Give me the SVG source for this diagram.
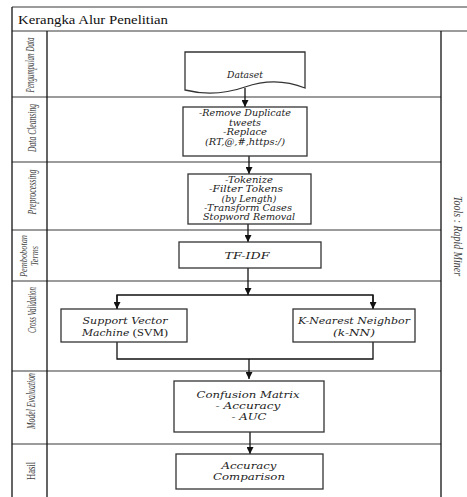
<svg xmlns="http://www.w3.org/2000/svg" width="467" height="497" viewBox="0 0 467 497">
<style>
.lane{stroke:#7a7a7a;stroke-width:1.3;fill:none}
.vline{stroke:#111;stroke-width:1.3;fill:none}
.box{fill:#fff;stroke:#333;stroke-width:1.3}
.conn{stroke:#111;stroke-width:1.3;fill:none}
.t{font-family:"DejaVu Serif","Liberation Serif",serif;font-style:italic;font-size:8.3px;fill:#222;text-anchor:middle}
.t2{font-family:"DejaVu Serif","Liberation Serif",serif;font-style:italic;font-size:9.6px;fill:#222;text-anchor:middle}
.lbl{font-family:"Liberation Serif",serif;font-style:italic;font-size:12.5px;fill:#444;text-anchor:middle}
.lbs{font-family:"Liberation Serif",serif;font-style:italic;font-size:10.5px;fill:#444;text-anchor:middle}
.title{font-family:"Liberation Serif",serif;font-size:13.5px;fill:#111}
</style>
<defs>
<marker id="arr" markerWidth="7" markerHeight="7" refX="7" refY="3.5" orient="auto" markerUnits="userSpaceOnUse">
<path d="M0,0 L7,3.5 L0,7 z" fill="#111"/>
</marker>
</defs>

<g id="frame">
<line class="lane" x1="12" y1="7" x2="467" y2="7"/>
<line class="lane" x1="12" y1="31" x2="467" y2="31"/>
<line class="lane" x1="12" y1="97" x2="441" y2="97"/>
<line class="lane" x1="12" y1="162" x2="441" y2="162"/>
<line class="lane" x1="12" y1="230" x2="441" y2="230"/>
<line class="lane" x1="12" y1="281" x2="441" y2="281"/>
<line class="lane" x1="12" y1="371" x2="441" y2="371"/>
<line class="lane" x1="12" y1="444" x2="441" y2="444"/>
<line class="vline" x1="12" y1="7" x2="12" y2="497"/>
<line class="vline" x1="47" y1="31" x2="47" y2="497"/>
<line class="vline" x1="441" y1="31" x2="441" y2="497"/>
<text class="title" x="18" y="24" textLength="150" lengthAdjust="spacingAndGlyphs">Kerangka Alur Penelitian</text>
</g>

<g id="lane-labels">
<text class="lbl" transform="translate(34,65) rotate(-90)" textLength="55" lengthAdjust="spacingAndGlyphs">Pengumpulan Data</text>
<text class="lbl" transform="translate(36,128) rotate(-90)" textLength="48" lengthAdjust="spacingAndGlyphs">Data Cleansing</text>
<text class="lbl" transform="translate(36,192) rotate(-90)" textLength="45" lengthAdjust="spacingAndGlyphs">Preprocessing</text>
<text class="lbs" transform="translate(27,256) rotate(-90)" textLength="42" lengthAdjust="spacingAndGlyphs">Pembobotan</text>
<text class="lbs" transform="translate(38,256) rotate(-90)" textLength="20" lengthAdjust="spacingAndGlyphs">Terms</text>
<text class="lbl" transform="translate(36,310) rotate(-90)" textLength="46" lengthAdjust="spacingAndGlyphs">Cross Validation</text>
<text class="lbl" transform="translate(35,401) rotate(-90)" textLength="56" lengthAdjust="spacingAndGlyphs">Model Evaluation</text>
<text class="lbl" transform="translate(35,471) rotate(-90)" style="font-style:normal" textLength="18" lengthAdjust="spacingAndGlyphs">Hasil</text>
<text class="lbl" transform="translate(454,236) rotate(90)" textLength="80" lengthAdjust="spacingAndGlyphs">Tools : Rapid Miner</text>
</g>

<g id="connectors">
<line class="conn" x1="245" y1="88" x2="245" y2="107" marker-end="url(#arr)"/>
<line class="conn" x1="249" y1="156" x2="249" y2="174" marker-end="url(#arr)"/>
<line class="conn" x1="248" y1="224" x2="248" y2="242" marker-end="url(#arr)"/>
<line class="conn" x1="248" y1="268" x2="248" y2="295" marker-end="url(#arr)"/>
<polyline class="conn" points="117,309 117,295 373,295 373,309"/>
<line class="conn" x1="117" y1="295" x2="117" y2="309" marker-end="url(#arr)"/>
<line class="conn" x1="373" y1="295" x2="373" y2="309" marker-end="url(#arr)"/>
<polyline class="conn" points="117,342 117,359 373,359 373,342"/>
<line class="conn" x1="249" y1="359" x2="249" y2="379" marker-end="url(#arr)"/>
<line class="conn" x1="250" y1="432" x2="250" y2="454" marker-end="url(#arr)"/>
</g>

<g id="dataset">
<path class="box" d="M185,52 H305 V88 C285,80 265,80 245,87 C225,94 205,95 185,90 Z"/>
<text class="t" x="245" y="78" textLength="36" lengthAdjust="spacingAndGlyphs">Dataset</text>
</g>

<g id="data-cleansing">
<rect class="box" x="183" y="107" width="124" height="49"/>
<text class="t" x="245" y="116" textLength="92" lengthAdjust="spacingAndGlyphs">-Remove Duplicate</text>
<text class="t" x="245" y="125.5" textLength="32" lengthAdjust="spacingAndGlyphs">tweets</text>
<text class="t" x="245" y="135" textLength="44" lengthAdjust="spacingAndGlyphs">-Replace</text>
<text class="t" x="245" y="144.5" textLength="80" lengthAdjust="spacingAndGlyphs">(RT,@,#,https:/)</text>
</g>

<g id="preprocessing">
<rect class="box" x="188" y="174" width="123" height="50"/>
<text class="t" x="249" y="183" textLength="48" lengthAdjust="spacingAndGlyphs">-Tokenize</text>
<text class="t" x="246" y="192.3" textLength="74" lengthAdjust="spacingAndGlyphs">-Filter Tokens</text>
<text class="t" x="249" y="201.6" textLength="55" lengthAdjust="spacingAndGlyphs">(by Length)</text>
<text class="t" x="248" y="210.9" textLength="88" lengthAdjust="spacingAndGlyphs">-Transform Cases</text>
<text class="t" x="249" y="220.2" textLength="92" lengthAdjust="spacingAndGlyphs">Stopword Removal</text>
</g>

<g id="tfidf">
<rect class="box" x="179" y="242" width="142" height="26"/>
<text class="t2" x="247" y="258.5" textLength="45" lengthAdjust="spacingAndGlyphs">TF-IDF</text>
</g>

<g id="svm">
<rect class="box" x="61" y="309" width="126" height="33"/>
<text class="t2" x="125" y="324" textLength="85" lengthAdjust="spacingAndGlyphs">Support Vector</text>
<text class="t2" x="125" y="336" textLength="86" lengthAdjust="spacingAndGlyphs">Machine <tspan style="font-style:normal;font-family:'Liberation Serif',serif;font-size:11px">(SVM)</tspan></text>
</g>

<g id="knn">
<rect class="box" x="293" y="309" width="122" height="33"/>
<text class="t2" x="354" y="324" textLength="112" lengthAdjust="spacingAndGlyphs">K-Nearest Neighbor</text>
<text class="t2" x="354" y="336" textLength="42" lengthAdjust="spacingAndGlyphs">(k-NN)</text>
</g>

<g id="evaluation">
<rect class="box" x="174" y="381" width="150" height="51"/>
<text class="t2" x="248" y="398" textLength="103" lengthAdjust="spacingAndGlyphs">Confusion Matrix</text>
<text class="t2" x="248" y="409" textLength="65" lengthAdjust="spacingAndGlyphs">- Accuracy</text>
<text class="t2" x="249" y="420" textLength="35" lengthAdjust="spacingAndGlyphs">- AUC</text>
</g>

<g id="result">
<rect class="box" x="176" y="454" width="147" height="35"/>
<text class="t2" x="249" y="469" textLength="55" lengthAdjust="spacingAndGlyphs">Accuracy</text>
<text class="t2" x="249" y="480" textLength="72" lengthAdjust="spacingAndGlyphs">Comparison</text>
</g>
</svg>
